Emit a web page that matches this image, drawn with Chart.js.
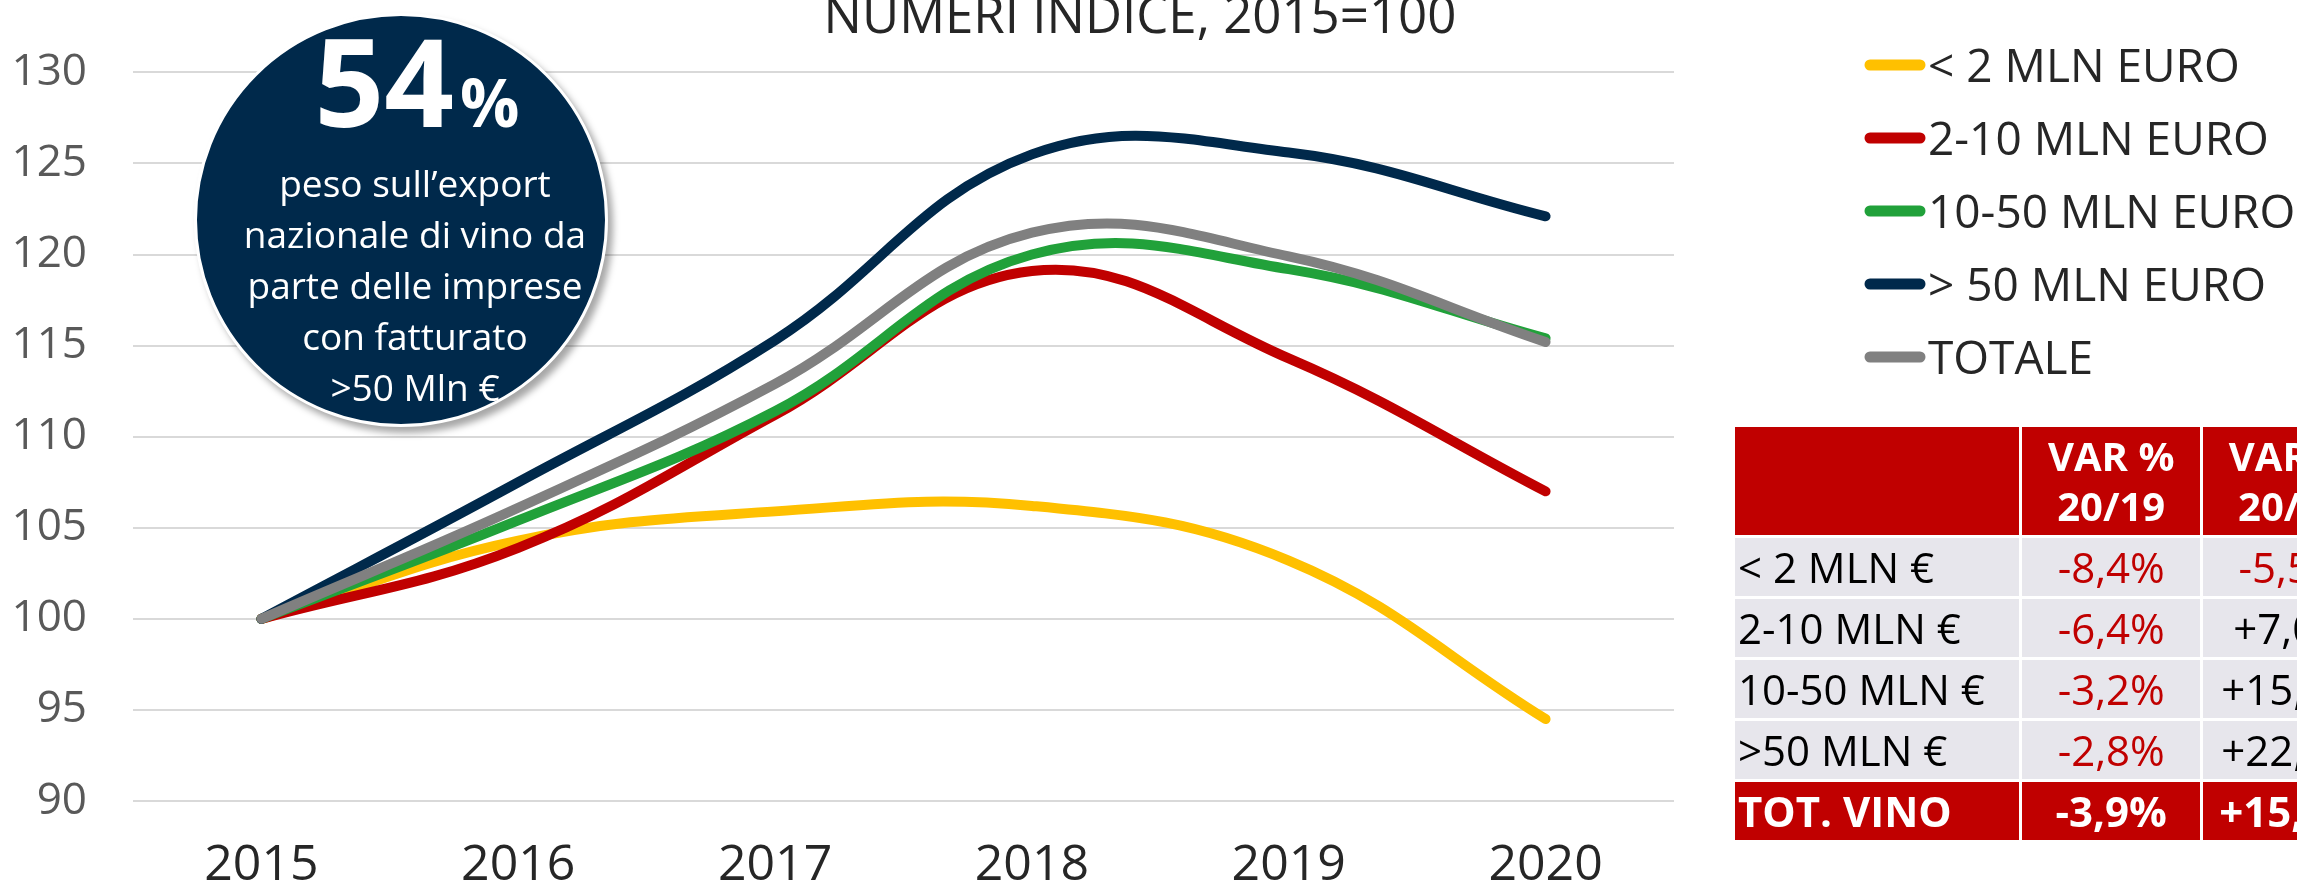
<!DOCTYPE html>
<html lang="it">
<head>
<meta charset="utf-8">
<title>Export vino per classe di fatturato</title>
<script src="https://cdn.jsdelivr.net/npm/chart.js@4.4.1/dist/chart.umd.min.js"></script>
<style>
    html, body { margin: 0; padding: 0; background: #fff; }
    body { position: relative; width: 2297px; height: 890px; overflow: hidden; font-family: 'Open Sans', 'Noto Sans', sans-serif; }
    #contenitore { position: absolute; left: 0; top: 0; width: 2297px; height: 890px; }

    .bolla { position: absolute; left: 194px; top: 13px; width: 408px; height: 408px; border-radius: 50%;
        background: #00294b; border: 3px solid #fff; box-shadow: 5px 6px 7px rgba( 0, 0, 0, 0.35 ); }
    .bolla-numero { position: absolute; left: 210px; top: 19px; width: 414px; text-align: center;
        color: #fff; font-weight: 700; font-size: 122px; line-height: 1; }
    .bolla-numero span { font-size: 66px; line-height: 1; margin-left: 6px; }
    .bolla-testo { position: absolute; left: 208px; top: 157px; width: 414px; text-align: center;
        color: #fff; font-size: 37px; line-height: 51px; }

    table.var { position: absolute; left: 1732px; top: 424px; border-collapse: separate; border-spacing: 3px;
        table-layout: fixed; width: 652px; }
    table.var td { padding: 0; height: 58px; font-size: 42px; line-height: 1; text-align: center;
        vertical-align: middle; background: #e7e6ec; color: #c00000; white-space: nowrap; overflow: hidden; }
    table.var td.etichetta { text-align: left; padding-left: 3px; color: #000; }
    table.var td.nero { color: #000; }
    table.var tr.testata td { height: 108px; background: #c00000; color: #fff; font-weight: 700;
        font-size: 40px; line-height: 50px; }
    table.var tr.totale td { background: #c00000; color: #fff; font-weight: 700; }
</style>
</head>
<body>
<div id="contenitore"><canvas id="grafico"></canvas></div>

<div class="bolla"></div>
<div class="bolla-numero">54<span>%</span></div>
<div class="bolla-testo">peso sull’export<br>nazionale di vino da<br>parte delle imprese<br>con fatturato<br>&gt;50 Mln €</div>

<table class="var" id="tabella">
    <colgroup><col style="width:283px"><col style="width:177px"><col style="width:177px"></colgroup>
</table>

<script>
// anni e serie (numeri indice, 2015 = 100)
const anni = [ '2015', '2016', '2017', '2018', '2019', '2020' ];
const sotto2 = [ 100, 104.3, 105.9, 106.2, 103.2, 94.5 ];
const da2a10 = [ 100, 103.9, 111.2, 119.1, 114.3, 107.0 ];
const da10a50 = [ 100, 105.4, 111.4, 120.0, 119.2, 115.4 ];
const oltre50 = [ 100, 107.5, 115.3, 125.5, 125.6, 122.1 ];
const totale = [ 100, 106.1, 112.9, 121.2, 119.9, 115.2 ];

const etichetteSerie = [ '< 2 MLN EURO', '2-10 MLN EURO', '10-50 MLN EURO', '> 50 MLN EURO', 'TOTALE' ];
const coloriSerie = [ '#ffc000', '#c00000', '#21a13a', '#00294b', '#808080' ];
const ordineDisegno = [ 5, 4, 3, 2, 1 ];

const yMin = 90, yMax = 130, yPasso = 5;
const titolo = 'NUMERI INDICE, 2015=100';

// tabella variazioni
const righeTabella = [ '< 2 MLN €', '2-10 MLN €', '10-50 MLN €', '>50 MLN €' ];
const var2019 = [ '-8,4%', '-6,4%', '-3,2%', '-2,8%' ];
const var2015 = [ '-5,5%', '+7,0%', '+15,4%', '+22,1%' ];
const totaleVino = [ 'TOT. VINO', '-3,9%', '+15,2%' ];
const testataTabella = [ '', 'VAR %<br>20/19', 'VAR %<br>20/15' ];

document.addEventListener( 'DOMContentLoaded', function ()
{
    const tab = document.getElementById( 'tabella' );
    let html = '<tr class="testata">' + testataTabella.map( t => '<td>' + t + '</td>' ).join( '' ) + '</tr>';
    righeTabella.forEach( ( r, i ) => {
        const neg = var2015[ i ].startsWith( '-' );
        html += '<tr><td class="etichetta">' + r.replace( '<', '&lt;' ) + '</td><td>' + var2019[ i ] + '</td>'
            + '<td class="' + ( neg ? '' : 'nero' ) + '">' + var2015[ i ] + '</td></tr>';
    } );
    html += '<tr class="totale"><td class="etichetta" style="color:#fff">' + totaleVino[ 0 ] + '</td><td>'
        + totaleVino[ 1 ] + '</td><td>' + totaleVino[ 2 ] + '</td></tr>';
    tab.insertAdjacentHTML( 'beforeend', html );

    const serie = [ sotto2, da2a10, da10a50, oltre50, totale ];

    // titolo e legenda disegnati a mano
    const decorazioni = {
        id: 'decorazioni',
        afterDraw( chart )
        {
            const ctx = chart.ctx;
            ctx.save();
            ctx.fillStyle = '#262626';
            ctx.font = '51px "Open Sans"';
            ctx.textAlign = 'center';
            ctx.textBaseline = 'alphabetic';
            ctx.fillText( titolo, 1140, 33 );

            ctx.textAlign = 'left';
            ctx.font = '46px "Open Sans"';
            chart.data.datasets.forEach( ( ds, i ) => {
                const y = 65 + i * 73;
                ctx.strokeStyle = ds.borderColor;
                ctx.lineWidth = 11;
                ctx.lineCap = 'round';
                ctx.beginPath();
                ctx.moveTo( 1870, y );
                ctx.lineTo( 1920, y );
                ctx.stroke();
                ctx.fillText( ds.label, 1928, y + 16.5 );
            } );
            ctx.restore();
        }
    };

    const ctx = document.getElementById( 'grafico' );
    new Chart( ctx, {
        type: 'line',
        data: {
            labels: anni,
            datasets: serie.map( ( dati, i ) => ( {
                label: etichetteSerie[ i ],
                data: dati,
                borderColor: coloriSerie[ i ],
                backgroundColor: coloriSerie[ i ],
                borderWidth: 10,
                borderCapStyle: 'round',
                borderJoinStyle: 'round',
                pointRadius: 0,
                tension: 0.4,
                fill: false,
                order: ordineDisegno[ i ]
            } ) )
        },
        options: {
            responsive: true,
            maintainAspectRatio: false,
            animation: false,
            layout: { padding: { left: 0, right: 623, top: 64, bottom: 0 } },
            plugins: {
                legend: { display: false },
                tooltip: { enabled: false }
            },
            scales: {
                x: {
                    offset: true,
                    grid: { display: false, drawTicks: false },
                    border: { display: false },
                    ticks: { color: '#262626', padding: 35, font: { family: 'Open Sans', size: 50 } },
                    afterFit: s => { s.height = 89; }
                },
                y: {
                    min: yMin,
                    max: yMax,
                    grid: { color: '#d9d9d9', lineWidth: 2, drawTicks: false },
                    border: { display: false },
                    ticks: { stepSize: yPasso, color: '#595959', padding: 46, font: { family: 'Open Sans', size: 44 } },
                    afterFit: s => { s.width = 133; }
                }
            }
        },
        plugins: [ decorazioni ]
    } );
} );
</script>
</body>
</html>
